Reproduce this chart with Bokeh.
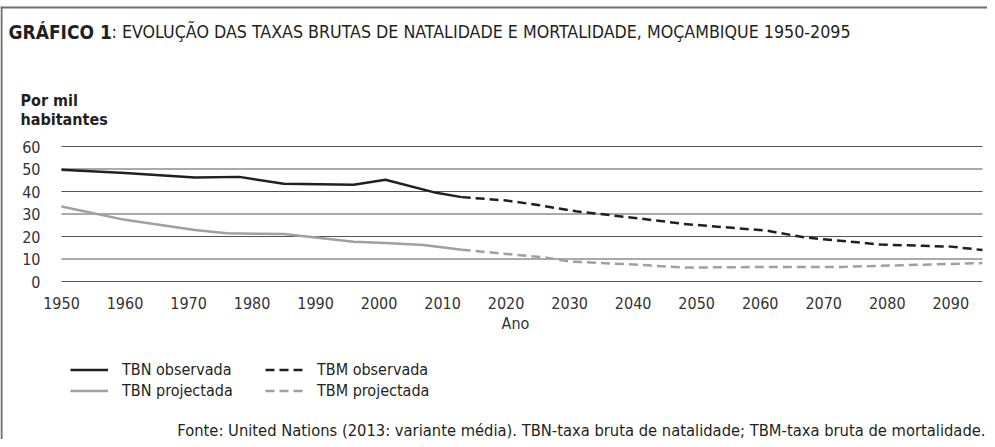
from bokeh.plotting import figure
from bokeh.models import Label, Legend, LegendItem, BoxAnnotation, Range1d
from bokeh.core.properties import value
from bokeh.embed import file_html
from bokeh.resources import INLINE

# ---- data ----
tbn_obs_years = [1950, 1960, 1971, 1978, 1985, 1996, 2001, 2009, 2013]
tbn_obs_vals = [49.7, 48.2, 46.2, 46.5, 43.4, 43.0, 45.2, 39.4, 37.5]

tbn_proj_years = [2013, 2020, 2025, 2031, 2041, 2048, 2061, 2067, 2079, 2090, 2095]
tbn_proj_vals = [37.5, 36.0, 34.0, 31.2, 28.0, 25.6, 22.6, 19.6, 16.4, 15.5, 14.0]

tbm_obs_years = [1950, 1960, 1971, 1976, 1985, 1996, 2001, 2007, 2013]
tbm_obs_vals = [33.3, 27.4, 22.9, 21.4, 21.1, 17.7, 17.1, 16.2, 14.1]

tbm_proj_years = [2013, 2026, 2030, 2041, 2048, 2064, 2073, 2095]
tbm_proj_vals = [14.1, 10.7, 8.9, 7.4, 6.2, 6.5, 6.5, 8.2]

x_ticks = [1950, 1960, 1970, 1980, 1990, 2000, 2010, 2020, 2030, 2040, 2050, 2060, 2070, 2080, 2090]
y_ticks = [0, 10, 20, 30, 40, 50, 60]
x_min, x_max = 1950, 2095
y_min, y_max = 0, 60

title_bold = "GRÁFICO 1"
title_rest = ": EVOLUÇÃO DAS TAXAS BRUTAS DE NATALIDADE E MORTALIDADE, MOÇAMBIQUE 1950-2095"
y_title = ["Por mil", "habitantes"]
x_title = "Ano"
source = "Fonte: United Nations (2013: variante média). TBN-taxa bruta de natalidade; TBM-taxa bruta de mortalidade."

FONT = "'Liberation Sans Narrow', 'DejaVu Sans Condensed', 'Roboto Condensed', sans-serif"
BLACK = "#231f20"
GRAY = "#a0a0a0"
TICK = "#333333"

# ---- layout (pixels within the canvas) ----
W, H = 987, 439
PL, PR, PT, PB = 61, 982, 146, 281   # plot area: left/right/top/bottom

xs = (PR - PL) / (x_max - x_min)
ys = (PB - PT) / (y_max - y_min)
x_range = Range1d(x_min - PL / xs, x_max + (W - PR) / xs)
y_range = Range1d(y_min - (H - PB) / ys, y_max + PT / ys)

p = figure(width=W, height=H, output_backend="svg", toolbar_location=None,
           x_range=x_range, y_range=y_range,
           min_border_left=0, min_border_right=0, min_border_top=0, min_border_bottom=0)
p.xaxis.visible = False
p.yaxis.visible = False
p.grid.visible = False
p.outline_line_color = None
p.background_fill_color = "white"
p.border_fill_color = "white"

# horizontal grid lines from the y ticks
p.segment(x0=[x_min] * len(y_ticks), x1=[x_max] * len(y_ticks), y0=y_ticks, y1=y_ticks,
          line_color="#555555", line_width=1)

# tick labels
p.text(x=x_ticks, y=[y_min] * len(x_ticks), text=[str(t) for t in x_ticks],
       text_align="center", text_baseline="middle", y_offset=21,
       text_font=value(FONT), text_font_size="16px", text_color=TICK)
p.text(x=[x_min] * len(y_ticks), y=y_ticks, text=[str(t) for t in y_ticks],
       text_align="right", text_baseline="middle", x_offset=-21,
       text_font=value(FONT), text_font_size="16px", text_color=TICK)

r1 = p.line(tbn_obs_years, tbn_obs_vals, line_color=BLACK, line_width=2.5)
r2 = p.line(tbn_proj_years, tbn_proj_vals, line_color=BLACK, line_width=2.5, line_dash="9 5")
r3 = p.line(tbm_obs_years, tbm_obs_vals, line_color=GRAY, line_width=2.5)
r4 = p.line(tbm_proj_years, tbm_proj_vals, line_color=GRAY, line_width=2.5, line_dash="9 5")

def make_legend(items, loc):
    lg = Legend(items=items, location=loc, orientation="vertical",
                padding=0, margin=0, spacing=0, border_line_color=None,
                background_fill_alpha=0, glyph_width=38, glyph_height=21,
                label_height=21, label_standoff=14,
                label_text_font=FONT, label_text_font_size="16px",
                label_text_color=BLACK)
    p.add_layout(lg, "center")

make_legend([LegendItem(label="TBN observada", renderers=[r1]),
             LegendItem(label="TBN projectada", renderers=[r3])], (70, 38))
make_legend([LegendItem(label="TBM observada", renderers=[r2]),
             LegendItem(label="TBM projectada", renderers=[r4])], (265, 38))

def lab(text, fx, fy, bold=False, align="left", size="16px", color=BLACK):
    p.add_layout(Label(x=fx, y=H - fy, x_units="screen", y_units="screen",
                       text=text, text_font=FONT, text_font_size=size,
                       text_font_style="bold" if bold else "normal",
                       text_align=align, text_baseline="middle", text_color=color))

lab(title_bold, 8, 31, bold=True, size="19px")
lab(title_rest, 111, 31, size="17.7px")
lab(y_title[0], 20, 100, bold=True)
lab(y_title[1], 20, 119, bold=True)
lab(x_title, 515, 323, align="center", color=TICK)
lab(source, 985, 430, align="right", size="16.4px")

# panel border lines (top and left)
p.add_layout(BoxAnnotation(left=0, right=2, top=H - 6, bottom=0,
                           left_units="screen", right_units="screen", top_units="screen",
                           bottom_units="screen", fill_color="#6d6d6d", fill_alpha=1,
                           line_color=None))
p.add_layout(BoxAnnotation(left=0, right=W, top=H - 6, bottom=H - 8,
                           left_units="screen", right_units="screen", top_units="screen",
                           bottom_units="screen", fill_color="#6d6d6d", fill_alpha=1,
                           line_color=None))

open("out.html", "w").write(file_html(p, INLINE))
